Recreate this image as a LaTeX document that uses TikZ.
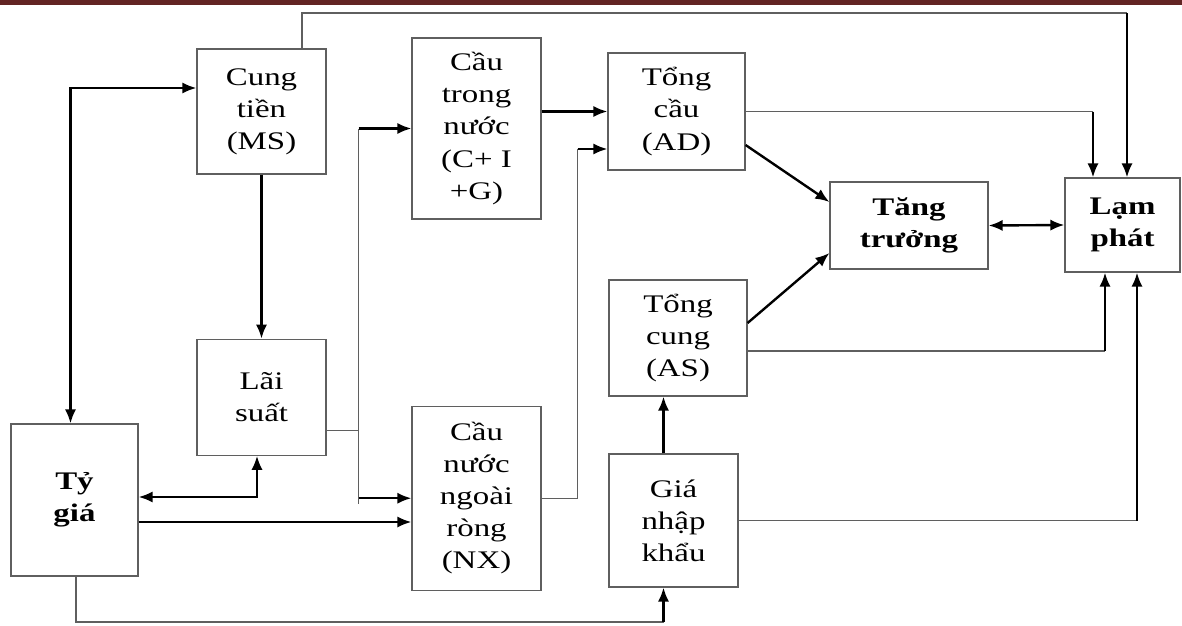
\documentclass[tikz,border=0pt]{standalone}
\usepackage{fontspec}
\setmainfont{Liberation Serif}[FakeStretch=1.3]
\usetikzlibrary{arrows.meta, positioning, calc}
\usepackage{xcolor}
\definecolor{barred}{RGB}{99, 36, 35}
\definecolor{linegray}{RGB}{95, 95, 95}
\tikzstyle{box} = [rectangle, draw=linegray, line width=0.8pt, align=center, inner sep=0pt, font=\fontsize{18}{22.8}\selectfont]
\tikzstyle{boldbox} = [box, font=\fontsize{18}{22.8}\selectfont\bfseries]
\tikzstyle{link} = [draw=linegray, line width=0.8pt]
\tikzstyle{arrow} = [line width=1.7pt,->,>={Latex[length=10pt,width=8pt]}]

\begin{document}
\begin{tikzpicture}[x=0.025cm, y=-0.025cm]
    \useasboundingbox (0,0) rectangle (1182,625);
    \fill[barred] (0,0) rectangle (1182,5);

    % Left column
    \node (ms) [box, minimum width=3.225cm, minimum height=3.125cm] at (261.5,111.5) {Cung\\tiền\\(MS)};
    \node (ls) [box, minimum width=3.225cm, minimum height=2.9cm, below=4.1cm of ms] {Lãi\\suất};
    \node (tg) [boldbox, minimum width=3.175cm, minimum height=3.8cm] at (74.5,500) {Tỷ\\giá};

    % Demand
    \node (ctn) [box, minimum width=3.225cm, minimum height=4.525cm] at (476.5,128.5) {Cầu\\trong\\nước\\(C+ I\\+G)};
    \node (nx) [box, minimum width=3.225cm, minimum height=4.6cm, below=4.65cm of ctn] {Cầu\\nước\\ngoài\\ròng\\(NX)};
    \node (ad) [box, minimum width=3.425cm, minimum height=2.925cm] at (676.5,111.5) {Tổng\\cầu\\(AD)};
    \node (as) [box, minimum width=3.45cm, minimum height=2.9cm] at (678,338) {Tổng\\cung\\(AS)};
    \node (gnk) [box, minimum width=3.225cm, minimum height=3.325cm] at (673.5,520.5) {Giá\\nhập\\khẩu};

    % Outcomes
    \node (tt) [boldbox, minimum width=3.95cm, minimum height=2.175cm] at (909,225.5) {Tăng\\trưởng};
    \node (lp) [boldbox, minimum width=2.875cm, minimum height=2.35cm] at (1122.5,225) {Lạm\\phát};

    % Helper points
    \coordinate (topc) at (1127,13);
    \coordinate (adin) at ($(ad.west)+(0,37.5)$);
    \coordinate (lpin1) at ($(lp.north)+(-29.5,0)$);
    \coordinate (lpin2) at ($(lp.south)+(-17.5,0)$);
    \coordinate (lpin3) at ($(lp.south)+(14.5,0)$);
    \coordinate (asout) at ($(as.east)+(0,13)$);
    \coordinate (tgout) at ($(tg.east)+(0,22)$);
    \coordinate (gup) at ($(gnk.north)+(-10,0)$);
    \coordinate (bot) at (76,622);

    % Arrows
    \draw [link] ($(ms.north)+(40.5,0)$) |- (topc);
    \draw [arrow] (topc) -- (topc |- lp.north);
    \draw [arrow, <->] ($(tg.north)+(-4,0)$) |- ($(ms.west)+(0,-23.5)$);
    \draw [arrow] (ms) -- (ls);
    \draw [arrow, <->] ($(tg.east)+(0,-3)$) -| ($(ls.south)+(-4.5,0)$);
    \draw [arrow] (tgout) -- (tgout -| nx.west);

    \draw [link] ($(ls.east)+(0,33)$) -- ++(32,0) coordinate (fork);
    \draw [link] (fork |- ctn.west) -- ($(fork |- nx.west)+(0,6)$);
    \draw [arrow] (fork |- ctn.west) -- (ctn.west);
    \draw [arrow] (fork |- nx.west) -- (nx.west);

    \draw [arrow] (ctn.east |- ad.west) -- (ad.west);
    \draw [link] (nx.east) -- ++(36,0) coordinate (nxc);
    \draw [link] (nxc) -- (nxc |- adin);
    \draw [arrow] (nxc |- adin) -- (adin);

    \draw [link] (ad.east) -- (ad.east -| lpin1);
    \draw [arrow] (ad.east -| lpin1) -- (lpin1);
    \draw [arrow] ($(ad.east)+(0,33.5)$) -- ($(tt.west)+(0,-23.5)$);
    \draw [arrow] ($(as.east)+(0,-15)$) -- ($(tt.west)+(0,27.5)$);
    \draw [arrow, <->] (tt.east) -- (lp.west);

    \draw [link] (asout) -- (asout -| lpin2);
    \draw [arrow] (asout -| lpin2) -- (lpin2);
    \draw [link] (gnk.east) -- (gnk.east -| lpin3);
    \draw [arrow] (gnk.east -| lpin3) -- (lpin3);

    \draw [arrow] (gup) -- (gup |- as.south);
    \draw [link] (tg.south -| bot) -- (bot) -- (bot -| gup);
    \draw [arrow] (bot -| gup) -- (gup |- gnk.south);

\end{tikzpicture}
\end{document}
